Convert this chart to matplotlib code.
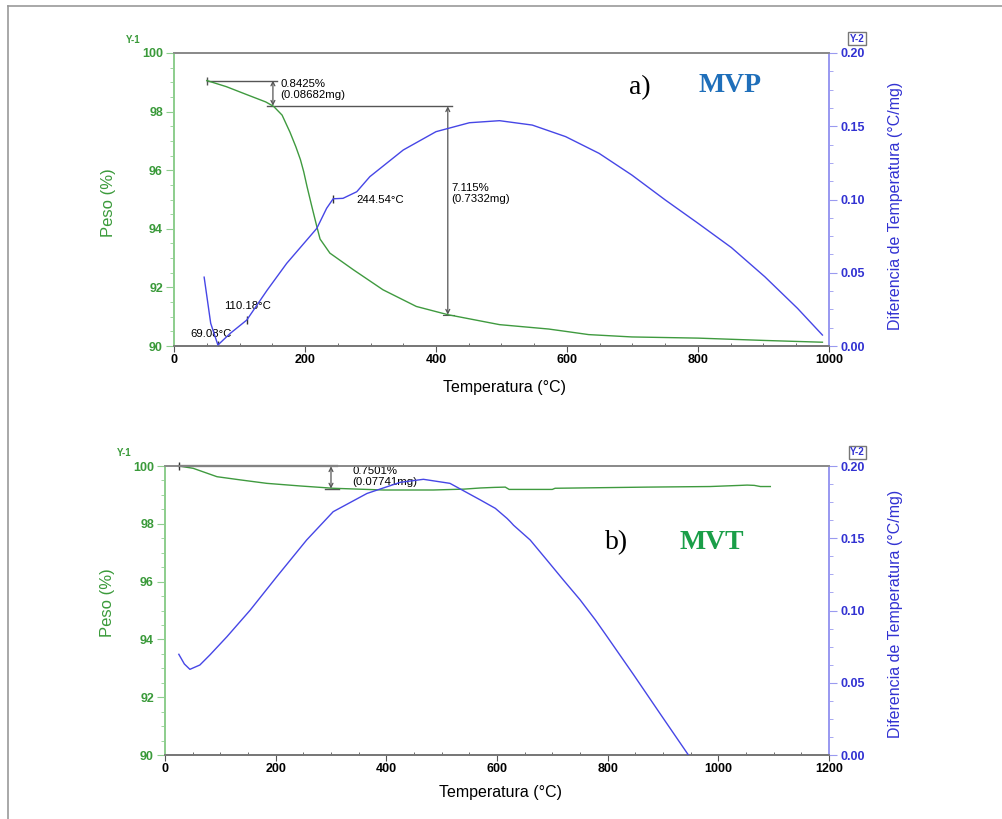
import numpy as np
import matplotlib.pyplot as plt
from matplotlib.lines import Line2D
from matplotlib.ticker import MultipleLocator

plt.rcParams['font.family'] = ['Liberation Sans', 'DejaVu Sans']

# a) MVP - TGA (peso %) and DTA (diferencia de temperatura)
mvp_tga_t = [50, 80, 111, 140, 152, 165, 177, 186, 193, 198, 203, 210, 218, 223, 238,
             274, 319, 370, 418, 497, 572, 598, 633, 699, 800, 902, 990]
mvp_tga_w = [99.06, 98.85, 98.58, 98.33, 98.18, 97.88, 97.3, 96.8, 96.36, 95.95, 95.45,
             94.8, 94.08, 93.65, 93.17, 92.6, 91.92, 91.35, 91.07, 90.73, 90.58, 90.5,
             90.39, 90.31, 90.27, 90.19, 90.13]
mvp_dta_t = [46, 56, 67, 86, 111, 142, 172, 203, 218, 233, 243, 258, 279, 299, 350, 400,
             451, 497, 547, 598, 649, 699, 750, 800, 851, 902, 952, 990]
mvp_dta_d = [0.047, 0.0155, 0.0007, 0.0087, 0.0177, 0.038, 0.0564, 0.0725, 0.0803, 0.094,
             0.1005, 0.1008, 0.1053, 0.1156, 0.1338, 0.1463, 0.1524, 0.1538, 0.1508, 0.1429,
             0.1315, 0.1167, 0.0997, 0.0838, 0.0672, 0.0473, 0.0257, 0.0075]

# b) MVT
mvt_tga_t = [25, 51, 94, 136, 184, 244, 304, 395, 485, 540, 570, 595, 615, 622, 700, 705,
             871, 985, 1040, 1052, 1065, 1076, 1094]
mvt_tga_w = [100, 99.92, 99.63, 99.52, 99.4, 99.31, 99.23, 99.17, 99.17, 99.2, 99.24, 99.26,
             99.27, 99.19, 99.19, 99.23, 99.27, 99.29, 99.33, 99.34, 99.33, 99.29, 99.29]
mvt_dta_t = [25, 35, 45, 63, 81, 112, 154, 202, 256, 304, 365, 425, 467, 515, 570, 597,
             618, 624, 630, 660, 690, 720, 750, 778, 798, 847, 895, 946]
mvt_dta_d = [0.0697, 0.063, 0.0593, 0.0623, 0.0692, 0.0819, 0.1003, 0.1234, 0.1488, 0.1684,
             0.181, 0.1887, 0.1908, 0.188, 0.1765, 0.1707, 0.1638, 0.1615, 0.159, 0.1488,
             0.135, 0.1211, 0.1075, 0.0934, 0.0825, 0.0555, 0.0285, 0.0]

green = '#3f9a3f'
green_spine = '#8fce8f'
green_txt = '#3a9a3a'
blue = '#4646e6'
blue_spine = '#9a9af0'
blue_txt = '#3232d2'
ann = '#555555'

fig = plt.figure(figsize=(10.03, 8.19), dpi=100)

# page frame (top and left only)
fig.add_artist(Line2D([0.008, 1.0], [0.9927, 0.9927], color='#999999', lw=1.2))
fig.add_artist(Line2D([0.008, 0.008], [0.0, 0.9927], color='#999999', lw=1.2))


def setup(ax, ax2, xmax):
    ax.set_xlim(0, xmax)
    ax.set_ylim(90, 100)
    ax2.set_ylim(0, 0.2)
    ax.xaxis.set_major_locator(MultipleLocator(200))
    ax.xaxis.set_minor_locator(MultipleLocator(50))
    ax.yaxis.set_major_locator(MultipleLocator(2))
    ax.yaxis.set_minor_locator(MultipleLocator(0.5))
    ax2.yaxis.set_major_locator(MultipleLocator(0.05))
    ax2.yaxis.set_minor_locator(MultipleLocator(0.0125))
    ax2.yaxis.set_major_formatter(plt.FormatStrFormatter('%.2f'))
    for a in (ax, ax2):
        a.spines['top'].set_color('#8a8a8a')
        a.spines['bottom'].set_color('#777777')
        a.spines['left'].set_color(green_spine)
        a.spines['right'].set_color(blue_spine)
        for s in a.spines.values():
            s.set_linewidth(1.3)
    ax.tick_params(axis='x', which='major', length=4, color='#555555', labelsize=9, pad=2)
    ax.tick_params(axis='x', which='minor', length=2, direction='in', color='#555555')
    ax.tick_params(axis='y', which='major', length=6, color=green_spine, labelcolor=green_txt,
                   labelsize=9, pad=2)
    ax.tick_params(axis='y', which='minor', length=3, color=green_spine)
    ax2.tick_params(axis='y', which='major', length=6, color=blue_spine, labelcolor=blue_txt,
                    labelsize=9, pad=2)
    ax2.tick_params(axis='y', which='minor', length=3, color=blue_spine)
    for lab in ax.get_xticklabels() + ax.get_yticklabels() + ax2.get_yticklabels():
        lab.set_fontweight('bold')
    ax.set_xlabel('Temperatura (°C)', fontsize=11.5)
    ax.set_ylabel('Peso (%)', fontsize=12, color=green_txt)
    ax2.set_ylabel('Diferencia de Temperatura (°C/mg)', fontsize=11.5, color=blue_txt)
    ax.text(-0.062, 1.045, 'Y-1', transform=ax.transAxes, fontsize=7, color=green_txt,
            fontweight='bold', ha='center', va='center')
    ax.text(1.043, 1.048, 'Y-2', transform=ax.transAxes, fontsize=7, color=blue_txt,
            fontweight='bold', ha='center', va='center',
            bbox=dict(boxstyle='square,pad=0.15', fc='white', ec='#777777', lw=1))


def darrow(ax, x, y0, y1):
    ax.annotate('', xy=(x, y1), xytext=(x, y0),
                arrowprops=dict(arrowstyle='<->', color=ann, lw=0.9, shrinkA=0, shrinkB=0,
                                mutation_scale=7))


# ---------- a) MVP ----------
ax = fig.add_axes([0.1735, 0.5775, 0.653, 0.3578])
ax2 = ax.twinx()
setup(ax, ax2, 1000)
ax.plot(mvp_tga_t, mvp_tga_w, color=green, lw=1.0, zorder=3)
ax2.plot(mvp_dta_t, mvp_dta_d, color=blue, lw=1.0, zorder=3)

ax.plot([50, 157], [99.06, 99.06], color=ann, lw=1.0)
ax.plot([50], [99.06], marker='|', color=ann, ms=6)
darrow(ax, 151, 99.06, 98.2)
ax.plot([142, 425], [98.18, 98.18], color=ann, lw=1.0)
darrow(ax, 418, 98.18, 91.07)
ax.plot([410, 428], [91.07, 91.07], color=ann, lw=0.8)
ax.text(162, 99.1, '0.8425%\n(0.08682mg)', fontsize=8.2, va='top', ha='left', linespacing=1.1)
ax.text(423, 95.55, '7.115%\n(0.7332mg)', fontsize=8.2, va='top', ha='left', linespacing=1.1)
ax.text(279, 95.0, '244.54°C', fontsize=8.2, va='center', ha='left')
ax.text(76, 91.35, '110.18°C', fontsize=8.2, va='center', ha='left')
ax.text(25, 90.42, '69.08°C', fontsize=8.2, va='center', ha='left')
ax2.plot([243, 111, 67], [0.1005, 0.0177, 0.0007], linestyle='none', marker='|', color='#333333', ms=6)

fig.text(0.638, 0.8926, 'a)', family=['Liberation Serif', 'DejaVu Serif'], fontsize=20,
         ha='center', va='center')
fig.text(0.728, 0.896, 'MVP', family=['Liberation Serif', 'DejaVu Serif'], fontsize=20,
         fontweight='bold', color='#1f6fba', ha='center', va='center')

ax.yaxis.set_label_coords(-0.0885, 0.49)
ax2.yaxis.set_label_coords(1.09, 0.478)
ax.xaxis.set_label_coords(0.505, -0.116)

# ---------- b) MVT ----------
bx = fig.add_axes([0.1645, 0.0781, 0.662, 0.3529])
bx2 = bx.twinx()
setup(bx, bx2, 1200)
bx.plot(mvt_tga_t, mvt_tga_w, color=green, lw=1.0, zorder=3)
bx2.plot(mvt_dta_t, mvt_dta_d, color=blue, lw=1.0, zorder=3)

bx.plot([25, 311], [99.99, 99.99], color='#444444', lw=1.6, clip_on=False, zorder=4)
bx.plot([25], [99.99], marker='|', color='#333333', ms=6, clip_on=False)
bx.plot([290, 315], [99.22, 99.22], color=ann, lw=1.0)
darrow(bx, 300, 99.99, 99.22)
bx.text(338, 100.0, '0.7501%\n(0.07741mg)', fontsize=8.2, va='top', ha='left', linespacing=1.1)

fig.text(0.615, 0.337, 'b)', family=['Liberation Serif', 'DejaVu Serif'], fontsize=20,
         ha='center', va='center')
fig.text(0.71, 0.337, 'MVT', family=['Liberation Serif', 'DejaVu Serif'], fontsize=20,
         fontweight='bold', color='#1a9e48', ha='center', va='center')

bx.yaxis.set_label_coords(-0.075, 0.526)
bx2.yaxis.set_label_coords(1.089, 0.49)
bx.xaxis.set_label_coords(0.505, -0.104)

fig.savefig('out.png', dpi=100)
